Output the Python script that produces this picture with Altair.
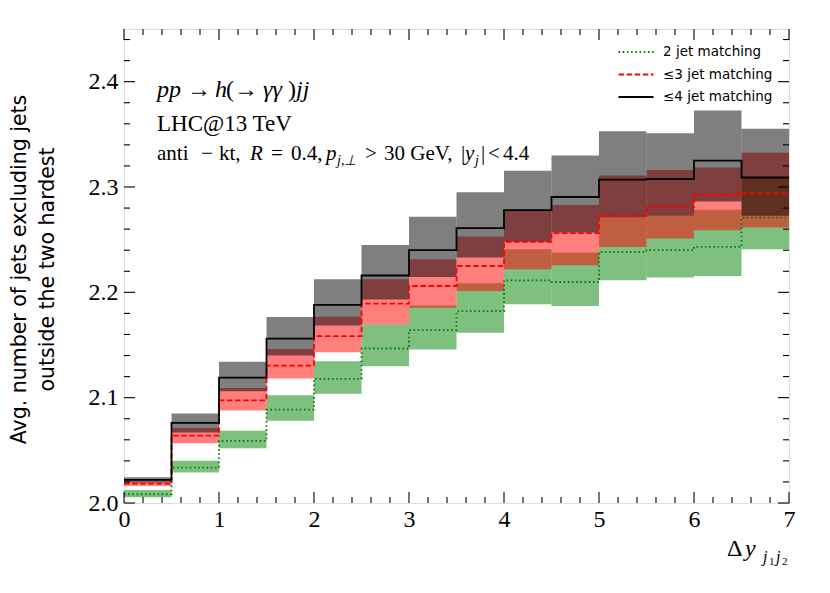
import altair as alt
import pandas as pd

# ---------------- data ----------------
edges = [0.0, 0.5, 1.0, 1.5, 2.0, 2.5, 3.0, 3.5, 4.0, 4.5, 5.0, 5.5, 6.0, 6.5, 7.0]
labels = ["2 jet matching", "≤3 jet matching", "≤4 jet matching"]

n2 = [2.0083, 2.0336, 2.059, 2.0886, 2.1178, 2.1467, 2.1641, 2.1822, 2.2114, 2.2098, 2.2384, 2.240, 2.2431, 2.271]
n2_lo = [2.0054, 2.0289, 2.052, 2.078, 2.1038, 2.1298, 2.1457, 2.1616, 2.1886, 2.187, 2.2114, 2.214, 2.2155, 2.241]
n2_hi = [2.0124, 2.040, 2.0686, 2.1022, 2.1346, 2.1695, 2.1876, 2.2086, 2.241, 2.2378, 2.271, 2.2727, 2.2784, 2.3086]

n3 = [2.0184, 2.064, 2.0975, 2.1305, 2.1584, 2.1892, 2.206, 2.225, 2.248, 2.2562, 2.2727, 2.2806, 2.2924, 2.294]
n3_lo = [2.0162, 2.0568, 2.0879, 2.1181, 2.1432, 2.1695, 2.1854, 2.2013, 2.2219, 2.2257, 2.2431, 2.2511, 2.259, 2.2616]
n3_hi = [2.0203, 2.0711, 2.1092, 2.1463, 2.1768, 2.2124, 2.2314, 2.253, 2.278, 2.2829, 2.311, 2.3162, 2.3184, 2.3324]

n4 = [2.022, 2.076, 2.119, 2.156, 2.188, 2.216, 2.240, 2.261, 2.278, 2.2905, 2.307, 2.3076, 2.325, 2.309]
n4_lo = [2.0195, 2.067, 2.106, 2.140, 2.1686, 2.1933, 2.2146, 2.233, 2.248, 2.2568, 2.271, 2.2727, 2.2863, 2.2727]
n4_hi = [2.0245, 2.085, 2.134, 2.1765, 2.2124, 2.245, 2.2717, 2.295, 2.3155, 2.3298, 2.353, 2.351, 2.3727, 2.3552]

x_major = [0, 1, 2, 3, 4, 5, 6, 7]
x_minor = [round(i * 0.2, 2) for i in range(36) if i % 5 != 0]
y_major = [2.0, 2.1, 2.2, 2.3, 2.4]
y_minor = [round(2.0 + i * 0.02, 2) for i in range(23) if i % 5 != 0]

colors = ["#008000", "#ff0000", "#000000"]
dashes = [[1.6, 2.6], [5.5, 2.6], [1, 0]]

# ---------------- layout ----------------
W, H = 665, 474
SERIF = "Liberation Serif"
SANS = "DejaVu Sans"

xs = alt.Scale(domain=[0, 7], nice=False, zero=False)
ys = alt.Scale(domain=[2.0, 2.45], nice=False, zero=False)

xaxis = alt.Axis(values=x_major, format="d", ticks=False, domain=False, grid=False,
                 labelFont=SERIF, labelFontSize=24, labelColor="black",
                 labelPadding=4, labelFlush=False, title="")
yaxis = alt.Axis(values=y_major, format=".1f", ticks=False, domain=False, grid=False,
                 labelFont=SERIF, labelFontSize=24, labelColor="black",
                 labelPadding=6, labelFlush=False,
                 title=["Avg. number of jets excluding jets", "outside the two hardest"],
                 titleFont=SANS, titleFontSize=20.5, titleFontWeight="normal",
                 titleColor="black", titleX=-115, titleY=240, titleAngle=270,
                 titleAlign="center", titleBaseline="top", titleLineHeight=28)


def band(vals_lo, vals_hi, color):
    df = pd.DataFrame({"x0": edges[:-1], "x1": edges[1:], "lo": vals_lo, "hi": vals_hi})
    return alt.Chart(df).mark_rect(color=color, opacity=0.5).encode(
        x=alt.X("x0:Q", scale=xs, axis=xaxis), x2="x1:Q",
        y=alt.Y("lo:Q", scale=ys, axis=yaxis), y2="hi:Q")


rows = []
for lab, vals in zip(labels, [n2, n3, n4]):
    for xe, v in zip(edges, vals + [vals[-1]]):
        rows.append({"x": xe, "y": v, "series": lab})
line_df = pd.DataFrame(rows)

# legend: a wide flat stroke symbol, so rows can sit close together
leg = alt.Legend(title=None, orient="none", legendX=501, legendY=12, direction="vertical",
                 symbolType="M-1.75,0H1.75", symbolSize=400, symbolStrokeWidth=1.8,
                 symbolFillColor="transparent",
                 labelFont=SANS, labelFontSize=13.5, labelColor="black",
                 rowPadding=4.5, padding=0, labelOffset=16)

lines = alt.Chart(line_df).mark_line(interpolate="step-after", strokeWidth=1.8).encode(
    x=alt.X("x:Q", scale=xs, axis=xaxis),
    y=alt.Y("y:Q", scale=ys, axis=yaxis),
    color=alt.Color("series:N", scale=alt.Scale(domain=labels, range=colors), legend=leg),
    strokeDash=alt.StrokeDash("series:N", scale=alt.Scale(domain=labels, range=dashes), legend=leg),
)


def xticks(vals, length):
    df = pd.DataFrame({"v": vals})
    base = alt.Chart(df).mark_rule(color="black", strokeWidth=1.1)
    return [base.encode(x=alt.X("v:Q", scale=xs, axis=xaxis), y=alt.value(H), y2=alt.value(H - length)),
            base.encode(x=alt.X("v:Q", scale=xs, axis=xaxis), y=alt.value(0), y2=alt.value(length))]


def yticks(vals, length):
    df = pd.DataFrame({"v": vals})
    base = alt.Chart(df).mark_rule(color="black", strokeWidth=1.1)
    return [base.encode(y=alt.Y("v:Q", scale=ys, axis=yaxis), x=alt.value(0), x2=alt.value(length)),
            base.encode(y=alt.Y("v:Q", scale=ys, axis=yaxis), x=alt.value(W), x2=alt.value(W - length))]


def txt(s, x, y, size, style="normal", font=SERIF):
    return alt.Chart(pd.DataFrame({"t": [s]})).mark_text(
        font=font, fontSize=size, fontStyle=style, align="left", baseline="alphabetic",
        color="black").encode(text="t:N", x=alt.value(x), y=alt.value(y))


L1, L2, L3 = 68, 102, 131
S3 = 21
annots = [
    # line 1: pp -> h(-> γγ)jj
    txt("pp", 33, L1, 24, "italic"),
    txt("→", 63, L1, 24),
    txt("h", 91, L1, 24, "italic"),
    txt("(", 102, L1, 24),
    txt("→", 110, L1, 24),
    txt("γγ", 139, L1, 24, "italic"),
    txt(")", 164, L1, 24),
    txt("jj", 172, L1, 24, "italic"),
    # line 2
    txt("LHC@13 TeV", 33, L2, 23),
    # line 3
    txt("anti", 33, L3, S3),
    txt("−", 77, L3, S3),
    txt("kt,", 95, L3, S3),
    txt("R", 126, L3, S3, "italic"),
    txt("=", 147, L3, S3),
    txt("0.4,", 167, L3, S3),
    txt("p", 202, L3, S3, "italic"),
    txt("j,⊥", 213, L3 + 5, 14, "italic"),
    txt(">", 241, L3, S3),
    txt("30 GeV,", 260, L3, S3),
    txt("|", 337, L3, S3),
    txt("y", 341, L3, S3, "italic"),
    txt("j", 351, L3 + 5, 14, "italic"),
    txt("|", 357, L3, S3),
    txt("<", 364, L3, S3),
    txt("4.4", 379, L3, S3),
    # x-axis label: Δy_{j1j2}
    txt("Δ", 603, 527, 24),
    txt("y", 621, 527, 24, "italic"),
    txt("j", 639, 533, 16, "italic"),
    txt("1", 645, 536, 11),
    txt("j", 652, 533, 16, "italic"),
    txt("2", 658, 536, 11),
]

layers = [band(n2_lo, n2_hi, colors[0]), band(n3_lo, n3_hi, colors[1]), band(n4_lo, n4_hi, colors[2]),
          lines]
layers += xticks(x_major, 11) + xticks(x_minor, 6) + yticks(y_major, 11) + yticks(y_minor, 6)
layers += annots

chart = alt.layer(*layers).properties(
    width=W, height=H,
    autosize=alt.AutoSizeParams(type="none"),
    padding={"left": 116, "top": 21, "right": 25, "bottom": 70},
).configure_view(stroke="black", strokeWidth=1.5).configure(background="white")

chart.save("out.html", embed_options={"renderer": "svg", "actions": False})
